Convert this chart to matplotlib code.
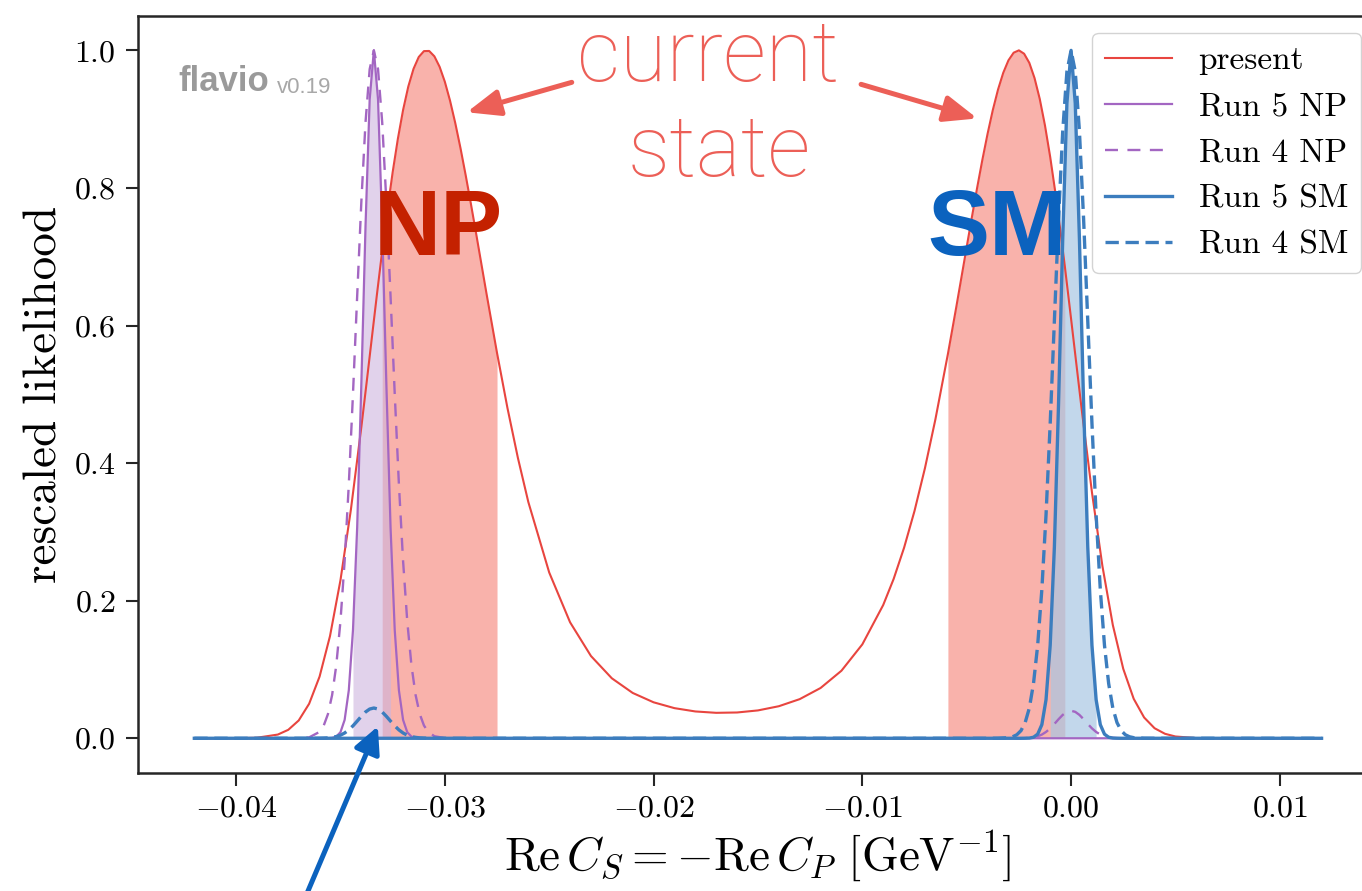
import numpy as np
import matplotlib
matplotlib.use('Agg')
from matplotlib import pyplot as plt
from matplotlib.lines import Line2D

# Шрифт в стиле LaTeX для осей и легенды
plt.rcParams['font.family'] = 'cmr10'
plt.rcParams['mathtext.fontset'] = 'cm'
plt.rcParams['axes.formatter.use_mathtext'] = True

# Текущее состояние (present)
x_present = [-0.042, -0.041, -0.040, -0.039, -0.038, -0.0375, -0.037, -0.0365, -0.036, -0.0355,
             -0.035, -0.0345, -0.034, -0.03375, -0.0335, -0.03325, -0.033, -0.03275, -0.0325, -0.03225,
             -0.032, -0.03175, -0.0315, -0.03125, -0.031, -0.03075, -0.0305, -0.03025, -0.030, -0.02975,
             -0.0295, -0.02925, -0.029, -0.02875, -0.0285, -0.02825, -0.028, -0.0275, -0.027, -0.0265,
             -0.026, -0.025, -0.024, -0.023, -0.022, -0.021, -0.020, -0.019, -0.018, -0.017,
             -0.016, -0.015, -0.014, -0.013, -0.012, -0.011, -0.010, -0.009, -0.0085, -0.008,
             -0.0075, -0.007, -0.0065, -0.0059, -0.0055, -0.00525, -0.005, -0.00475, -0.0045, -0.00425,
             -0.004, -0.00375, -0.0035, -0.00325, -0.003, -0.00275, -0.0025, -0.00225, -0.002, -0.00175,
             -0.0015, -0.00125, -0.001, -0.00075, -0.0005, -0.0003, 0.000, 0.0005, 0.001, 0.0015,
             0.002, 0.0025, 0.003, 0.0035, 0.004, 0.0045, 0.005, 0.006, 0.007, 0.008,
             0.010, 0.012]
y_present = [0.0, 0.0, 0.0001, 0.0008, 0.0054, 0.0123, 0.0259, 0.0502, 0.0897, 0.1487,
             0.2297, 0.3324, 0.4522, 0.5162, 0.5812, 0.6458, 0.7085, 0.7680, 0.8227, 0.8714,
             0.9133, 0.9474, 0.9731, 0.9903, 0.9989, 0.9991, 0.9913, 0.9761, 0.9544, 0.9268,
             0.8943, 0.8579, 0.8183, 0.7767, 0.7336, 0.6897, 0.6458, 0.5602, 0.4801, 0.4076,
             0.3434, 0.2410, 0.1686, 0.1196, 0.0872, 0.0659, 0.0523, 0.0438, 0.0390, 0.0370,
             0.0375, 0.0405, 0.0466, 0.0569, 0.0731, 0.0982, 0.1365, 0.1937, 0.2316, 0.2770,
             0.3305, 0.3927, 0.4635, 0.5587, 0.6267, 0.6704, 0.7143, 0.7578, 0.8002, 0.8408,
             0.8787, 0.9131, 0.9429, 0.9673, 0.9855, 0.9966, 1.0, 0.9951, 0.9818, 0.9597,
             0.9293, 0.8908, 0.8450, 0.7927, 0.7352, 0.6863, 0.6097, 0.4801, 0.3575, 0.2506,
             0.1646, 0.1009, 0.0574, 0.0302, 0.0146, 0.0065, 0.0026, 0.0003, 0.0, 0.0,
             0.0, 0.0]
present_bands = [(-0.0330, -0.0275), (-0.0059, -0.0003)]

# Прогнозы Run 4 / Run 5
x_runs = [-0.0420, -0.0380, -0.0370, -0.0365, -0.0360,
          -0.0358, -0.0356, -0.0354, -0.0352, -0.0350, -0.0348, -0.0346, -0.0344, -0.0342, -0.0340,
          -0.0338, -0.0336, -0.0334, -0.0332, -0.0330, -0.0328, -0.0326, -0.0324, -0.0322, -0.0320,
          -0.0318, -0.0316, -0.0314, -0.0312, -0.0310, -0.0308,
          -0.0305, -0.0300, -0.0290, -0.0250, -0.0100, -0.0040, -0.0035,
          -0.0030, -0.0028, -0.0026, -0.0024, -0.0022, -0.0020, -0.0018, -0.0016, -0.0014, -0.0012,
          -0.0010, -0.0008, -0.0006, -0.0004, -0.0002, 0.0000, 0.0002, 0.0004, 0.0006, 0.0008,
          0.0010, 0.0012, 0.0014, 0.0016, 0.0018, 0.0020, 0.0022, 0.0024, 0.0026, 0.0028,
          0.0030, 0.0035, 0.0040, 0.0050, 0.0120]
y_np5 = [0, 0, 0, 0, 0,
         0, 0.0001, 0.0006, 0.0025, 0.0088, 0.0267, 0.0698, 0.1574, 0.3062, 0.5139,
         0.7439, 0.9287, 1.0, 0.9287, 0.7439, 0.5139, 0.3062, 0.1574, 0.0698, 0.0267,
         0.0088, 0.0025, 0.0006, 0.0001, 0, 0,
         0, 0, 0, 0, 0, 0, 0,
         0, 0, 0, 0, 0, 0, 0, 0, 0, 0,
         0, 0, 0, 0, 0, 0, 0, 0, 0, 0,
         0, 0, 0, 0, 0, 0, 0, 0, 0, 0,
         0, 0, 0, 0, 0]
y_np4 = [0, 0, 0.0001, 0.0013, 0.0093,
         0.0186, 0.0351, 0.0628, 0.1062, 0.1701, 0.2576, 0.3691, 0.5006, 0.6422, 0.7795,
         0.8952, 0.9727, 1.0, 0.9727, 0.8952, 0.7795, 0.6422, 0.5006, 0.3691, 0.2576,
         0.1701, 0.1062, 0.0628, 0.0351, 0.0186, 0.0093,
         0.0030, 0.0003, 0, 0, 0, 0, 0,
         0, 0, 0, 0.0001, 0.0003, 0.0007, 0.0015, 0.0029, 0.0054, 0.0092,
         0.0144, 0.0208, 0.0277, 0.0340, 0.0384, 0.0400, 0.0384, 0.0340, 0.0277, 0.0208,
         0.0144, 0.0092, 0.0054, 0.0029, 0.0015, 0.0007, 0.0003, 0.0001, 0, 0,
         0, 0, 0, 0, 0]
y_sm5 = [0, 0, 0, 0, 0,
         0, 0, 0, 0, 0, 0, 0, 0, 0, 0,
         0, 0, 0, 0, 0, 0, 0, 0, 0, 0,
         0, 0, 0, 0, 0, 0,
         0, 0, 0, 0, 0, 0, 0,
         0, 0, 0, 0, 0.0001, 0.0003, 0.0015, 0.0060, 0.0198, 0.0561,
         0.1353, 0.2780, 0.4868, 0.7261, 0.9231, 1.0, 0.9231, 0.7261, 0.4868, 0.2780,
         0.1353, 0.0561, 0.0198, 0.0060, 0.0015, 0.0003, 0.0001, 0, 0, 0,
         0, 0, 0, 0, 0]
y_sm4 = [0, 0, 0, 0, 0.0001,
         0.0003, 0.0006, 0.0013, 0.0025, 0.0045, 0.0077, 0.0122, 0.0181, 0.0249, 0.0319,
         0.0382, 0.0425, 0.0440, 0.0425, 0.0382, 0.0319, 0.0249, 0.0181, 0.0122, 0.0077,
         0.0045, 0.0025, 0.0013, 0.0006, 0.0003, 0.0001,
         0, 0, 0, 0, 0, 0, 0.0001,
         0.0009, 0.0022, 0.0051, 0.0111, 0.0228, 0.0439, 0.0796, 0.1353, 0.2163, 0.3247,
         0.4578, 0.6065, 0.7548, 0.8825, 0.9692, 1.0, 0.9692, 0.8825, 0.7548, 0.6065,
         0.4578, 0.3247, 0.2163, 0.1353, 0.0796, 0.0439, 0.0228, 0.0111, 0.0051, 0.0022,
         0.0009, 0.0001, 0, 0, 0]
np5_band = (-0.0344, -0.0326)
sm5_band = (-0.0010, 0.0012)

c_red = '#E8453F'
c_purple = '#A366C2'
c_blue = '#3C7DBE'

x_present = np.array(x_present)
y_present = np.array(y_present)
x_runs = np.array(x_runs)


def band(x, y, lo, hi):
    m = (x >= lo - 1e-9) & (x <= hi + 1e-9)
    return x[m], np.array(y)[m]


fig = plt.figure(figsize=(13.62, 8.91), dpi=100)
ax = fig.add_axes([0.1013, 0.1328, 0.9104, 0.8493])

# Заливка 1 sigma и кривые правдоподобия
for lo, hi in present_bands:
    bx, by = band(x_present, y_present, lo, hi)
    ax.fill_between(bx, 0, by, color='#F9B2AB', lw=0, zorder=1)
ax.plot(x_present, y_present, color=c_red, lw=1.5, zorder=3)

bx, by = band(x_runs, y_np5, *np5_band)
ax.fill_between(bx, 0, by, color='#CDB4DE', alpha=0.6, lw=0, zorder=2)
ax.plot(x_runs, y_np5, color=c_purple, lw=1.6, zorder=3)
ax.plot(x_runs, y_np4, color=c_purple, lw=1.7, ls=(0, (5.5, 4)), zorder=3)

bx, by = band(x_runs, y_sm5, *sm5_band)
ax.fill_between(bx, 0, by, color='#A9C6E3', alpha=0.7, lw=0, zorder=2)
ax.plot(x_runs, y_sm4, color=c_blue, lw=2.4, ls=(0, (4, 2)), zorder=3)
ax.plot(x_runs, y_sm5, color=c_blue, lw=2.4, zorder=3)

ax.set_xlim(-0.0447, 0.0147)
ax.set_ylim(-0.05, 1.05)
ax.set_xticks([-0.04, -0.03, -0.02, -0.01, 0.00, 0.01])
ax.set_yticks([0.0, 0.2, 0.4, 0.6, 0.8, 1.0])

for s in ax.spines.values():
    s.set_linewidth(1.8)
    s.set_color('#262626')
ax.tick_params(axis='both', which='major', labelsize=23, length=9, width=1.5, pad=7,
               color='#262626')

ax.set_xlabel(r'$\mathrm{Re}\,C_S=-\mathrm{Re}\,C_P\ [\mathrm{GeV}^{-1}]$', fontsize=34, labelpad=4)
ax.set_ylabel('rescaled likelihood', fontsize=34, labelpad=6)

# Легенда
handles = [Line2D([], [], color=c_red, lw=1.5),
           Line2D([], [], color=c_purple, lw=1.6),
           Line2D([], [], color=c_purple, lw=1.7, ls=(0, (5.5, 4))),
           Line2D([], [], color=c_blue, lw=2.4),
           Line2D([], [], color=c_blue, lw=2.4, ls=(0, (4, 2)))]
labels = ['present', 'Run 5 NP', 'Run 4 NP', 'Run 5 SM', 'Run 4 SM']
leg = ax.legend(handles, labels, loc='upper right', fontsize=24, labelspacing=0.5,
                edgecolor='#cccccc', framealpha=0.85)
leg.set_zorder(10)

# Подпись flavio
t = ax.text(0.0323, 0.901, 'flavio', transform=ax.transAxes, family='Liberation Sans',
            weight='bold', fontsize=25, color='#9a9a9a', va='baseline')
ax.annotate('v0.19', xy=(1, 0), xycoords=t, xytext=(6, 0), textcoords='offset points',
            family='Liberation Sans', fontsize=16, color='#a8a8a8', va='bottom')

# Надписи NP / SM
ax.text(-0.0303, 0.702, 'NP', family='Liberation Sans', weight='bold', fontsize=67,
        color='#C42100', ha='center', va='baseline', zorder=6)
ax.text(-0.00354, 0.702, 'SM', family='Liberation Sans', weight='bold', fontsize=67,
        color='#0B62BE', ha='center', va='baseline', zorder=6)

# "current state" со стрелками
c_note = '#EC5F57'
ax.text(-0.01739, 0.956, 'current', family='Roboto', weight='light', fontsize=61,
        color=c_note, ha='center', va='baseline', zorder=6)
ax.text(-0.01686, 0.818, 'state', family='Roboto', weight='light', fontsize=61,
        color=c_note, ha='center', va='baseline', zorder=6)
arrow_red = dict(arrowstyle='-|>,head_length=0.5,head_width=0.2', color=c_note, lw=3.6,
                 mutation_scale=40, shrinkA=0, shrinkB=0)
ax.annotate('', xy=(-0.02895, 0.910), xytext=(-0.02392, 0.9535), arrowprops=arrow_red, zorder=6)
ax.annotate('', xy=(-0.00449, 0.901), xytext=(-0.01006, 0.9506), arrowprops=arrow_red, zorder=6)

# Стрелка на малый пик Run 4 SM
arrow_blue = dict(arrowstyle='-|>,head_length=0.4,head_width=0.2', color='#0B62BE', lw=3.6,
                  mutation_scale=40, shrinkA=0, shrinkB=0)
ax.annotate('', xy=(-0.03321, 0.0173), xytext=(-0.03754, -0.2925), arrowprops=arrow_blue,
            annotation_clip=False, zorder=6)

fig.savefig('out.png', dpi=100)
